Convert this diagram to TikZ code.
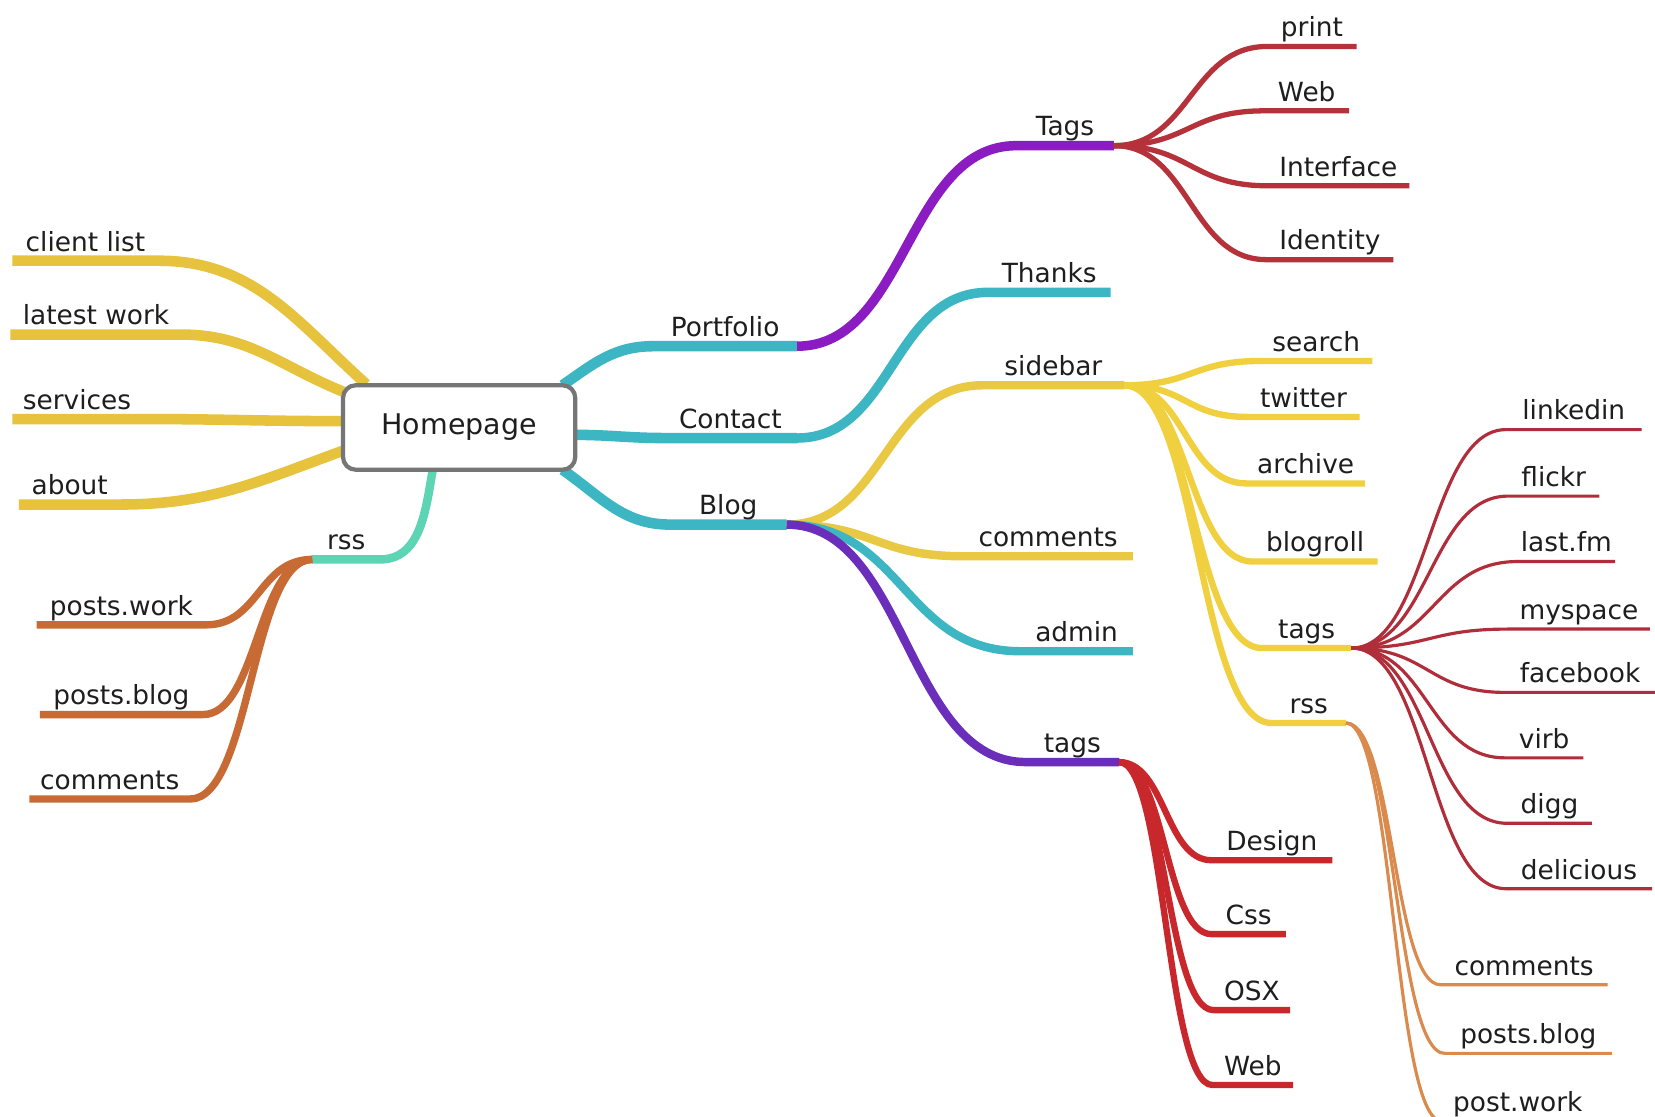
\documentclass[tikz,border=0pt]{standalone}
\usepackage{fontspec}
\newfontfamily\mmfont{DejaVu Sans}
\usetikzlibrary{calc}
\pgfdeclarelayer{back}
\pgfdeclarelayer{bg}
\pgfsetlayers{back,bg,main}
\definecolor{txt}{HTML}{1E1E1E}
\definecolor{cBox}{HTML}{767676}
\definecolor{cYel}{HTML}{E7C23D}
\definecolor{cYelB}{HTML}{E9C843}
\definecolor{cLem}{HTML}{F0D03E}
\definecolor{cTeal}{HTML}{3DB6C4}
\definecolor{cMint}{HTML}{5DD5B4}
\definecolor{cPurA}{HTML}{8A1CC2}
\definecolor{cPurB}{HTML}{6B2EBB}
\definecolor{cRedA}{HTML}{B5323A}
\definecolor{cRedB}{HTML}{B02E3A}
\definecolor{cRedC}{HTML}{C8282B}
\definecolor{cOrL}{HTML}{C76A34}
\definecolor{cOrR}{HTML}{D98A4C}
\tikzset{
  topic/.style={anchor=south, text depth=0pt, inner ysep=9pt, inner xsep=0pt,
    text=txt, font=\mmfont\fontsize{25}{30}\selectfont},
  homebox/.style={draw=cBox, line width=4pt, rounded corners=12pt, fill=white,
    minimum width=220pt, minimum height=80pt, text=txt,
    font=\mmfont\fontsize{27}{32}\selectfont},
  sc/.style={to path={let \p1=(\tikztostart), \p2=(\tikztotarget) in
    .. controls ({0.5*\x1+0.5*\x2},\y1) and ({0.5*\x1+0.5*\x2},\y2) .. (\tikztotarget)}},
  br/.style 2 args={draw=#1, line width=#2},
}
\begin{document}
\begin{tikzpicture}[x=1pt,y=1pt]
\useasboundingbox (0,-1058) rectangle (1568,0);
\begin{pgfonlayer}{back}
\fill[white] (0,-1058) rectangle (1568,0);
\end{pgfonlayer}

% central node
\node[homebox] (home) at (435,-405) {Homepage};

% left side
\node[topic, minimum width=138pt] (cl) at (81,-247) {client list};
\node[topic, minimum width=162pt] (lw) at (91,-317) {latest work};
\node[topic, minimum width=122pt] (sv) at (73,-397) {services};
\node[topic, minimum width=96pt]  (ab) at (66,-478) {about};
\node[topic, minimum width=64pt]  (rl) at (328,-530) {rss};
\node[topic, minimum width=160pt] (pw) at (115,-592) {posts.work};
\node[topic, minimum width=154pt] (pb) at (115,-677) {posts.blog};
\node[topic, minimum width=152pt] (cm) at (104,-757) {comments};

% right side, first level
\node[topic, minimum width=136pt] (pf) at (687,-328) {Portfolio};
\node[topic, minimum width=126pt] (ct) at (692,-415) {Contact};
\node[topic, minimum width=110pt] (bl) at (690,-497) {Blog};

% second level
\node[topic, minimum width=92pt]  (tg) at (1009,-138) {Tags};
\node[topic, minimum width=116pt] (th) at (994,-277) {Thanks};
\node[topic, minimum width=134pt] (sb) at (998,-365) {sidebar};
\node[topic, minimum width=160pt] (bc) at (993,-527) {comments};
\node[topic, minimum width=106pt] (ad) at (1020,-617) {admin};
\node[topic, minimum width=88pt]  (bt) at (1016,-722) {tags};

% Tags children
\node[topic, minimum width=84pt]  (pr) at (1243,-44) {print};
\node[topic, minimum width=80pt]  (wb) at (1238,-105) {Web};
\node[topic, minimum width=134pt] (if) at (1268,-176) {Interface};
\node[topic, minimum width=120pt] (id) at (1260,-246) {Identity};

% sidebar children
\node[topic, minimum width=106pt] (se) at (1247,-342) {search};
\node[topic, minimum width=106pt] (tw) at (1235,-395) {twitter};
\node[topic, minimum width=112pt] (ar) at (1237,-458) {archive};
\node[topic, minimum width=118pt] (bo) at (1246,-532) {blogroll};
\node[topic, minimum width=84pt]  (st) at (1238,-614) {tags};
\node[topic, minimum width=70pt]  (sr) at (1240,-685) {rss};

% sidebar tags children
\node[topic, minimum width=128pt] (li) at (1491,-407) {linkedin};
\node[topic, minimum width=86pt]  (fl) at (1472,-470) {flickr};
\node[topic, minimum width=92pt]  (lf) at (1484,-532) {last.fm};
\node[topic, minimum width=134pt] (ms) at (1496,-596) {myspace};
\node[topic, minimum width=142pt] (fb) at (1497,-656) {facebook};
\node[topic, minimum width=74pt]  (vi) at (1463,-718) {virb};
\node[topic, minimum width=80pt]  (dg) at (1468,-780) {digg};
\node[topic, minimum width=138pt] (de) at (1496,-842) {delicious};

% sidebar rss children
\node[topic, minimum width=158pt] (rc) at (1444,-933) {comments};
\node[topic, minimum width=158pt] (rb) at (1448,-998) {posts.blog};
\node[topic, minimum width=144pt] (rw) at (1438,-1062) {post.work};

% blog tags children
\node[topic, minimum width=114pt] (dn) at (1205,-815) {Design};
\node[topic, minimum width=70pt]  (cs) at (1183,-885) {Css};
\node[topic, minimum width=72pt]  (ox) at (1186,-957) {OSX};
\node[topic, minimum width=76pt]  (w2) at (1187,-1028) {Web};

\begin{pgfonlayer}{bg}
% left branches
\draw[br={cYel}{10pt}] ($(home.north west)+(24,-1)$) to[out=138,in=0] (cl.south east) -- (cl.south west);
\draw[br={cYel}{10pt}] ($(home.north west)+(2,-8)$) to[out=158,in=0] (lw.south east) -- (lw.south west);
\draw[br={cYel}{10pt}] ($(home.west)+(2,6)$) to[out=180,in=0] (sv.south east) -- (sv.south west);
\draw[br={cYel}{10pt}] ($(home.west)+(2,-22)$) to[out=200,in=0] (ab.south east) -- (ab.south west);
\draw[br={cMint}{8pt}] ($(home.south)+(-25,2)$) to[out=-100,in=0] (rl.south east) -- (rl.south west);
\draw[br={cOrL}{7pt}] (rl.south west) to[sc] (pw.south east) -- (pw.south west);
\draw[br={cOrL}{7pt}] (rl.south west) to[sc] (pb.south east) -- (pb.south west);
\draw[br={cOrL}{7pt}] (rl.south west) to[sc] (cm.south east) -- (cm.south west);

% right branches
\draw[br={cTeal}{10pt}] ($(home.north east)+(-14,-2)$) to[out=35,in=180] (pf.south west) -- (pf.south east);
\draw[br={cTeal}{10pt}] ($(home.east)+(-2,-7)$) to[out=0,in=180] (ct.south west) -- (ct.south east);
\draw[br={cTeal}{10pt}] ($(home.south east)+(-14,2)$) to[out=-35,in=180] (bl.south west) -- (bl.south east);

\draw[br={cPurA}{9pt}] (pf.south east) to[sc] (tg.south west) -- (tg.south east);
\draw[br={cTeal}{9pt}] (ct.south east) to[sc] (th.south west) -- (th.south east);
\draw[br={cYelB}{8pt}] (bl.south east) to[sc] (sb.south west) -- (sb.south east);
\draw[br={cYelB}{8pt}] (bl.south east) to[sc] (bc.south west) -- (bc.south east);
\draw[br={cTeal}{8pt}] (bl.south east) to[sc] (ad.south west) -- (ad.south east);
\draw[br={cPurB}{8pt}] (bl.south east) to[sc] (bt.south west) -- (bt.south east);

\foreach \c in {pr,wb,if,id}
  \draw[br={cRedA}{5pt}] (tg.south east) to[sc] (\c.south west) -- (\c.south east);
\foreach \c in {se,tw,ar,bo,st,sr}
  \draw[br={cLem}{6pt}] (sb.south east) to[sc] (\c.south west) -- (\c.south east);
\foreach \c in {li,fl,lf,ms,fb,vi,dg,de}
  \draw[br={cRedB}{3pt}] (st.south east) to[sc] (\c.south west) -- (\c.south east);
\foreach \c in {rc,rb,rw}
  \draw[br={cOrR}{3pt}] (sr.south east) to[sc] (\c.south west) -- (\c.south east);
\foreach \c in {dn,cs,ox,w2}
  \draw[br={cRedC}{6pt}] (bt.south east) to[sc] (\c.south west) -- (\c.south east);
\end{pgfonlayer}
\end{tikzpicture}
\end{document}
